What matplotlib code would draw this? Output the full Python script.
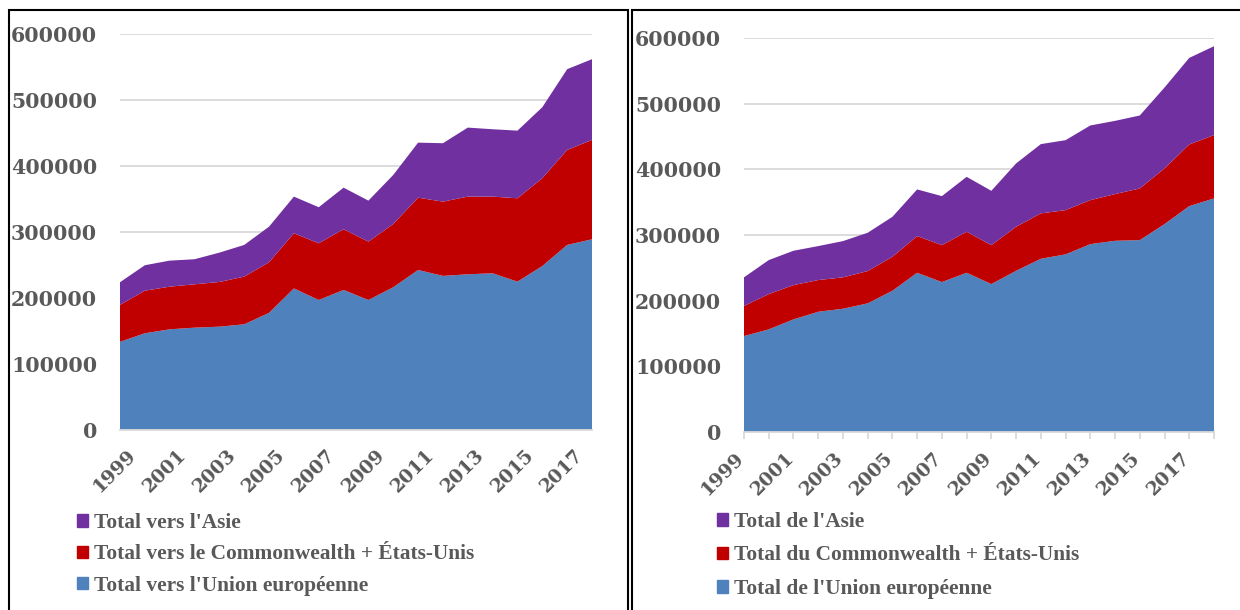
"""Deux graphiques en aires empilees : exportations (gauche) et importations (droite),
par grande zone, 1999-2018."""

import matplotlib.pyplot as plt
from matplotlib.patches import Patch, Rectangle
from matplotlib.font_manager import FontProperties
from matplotlib.transforms import ScaledTranslation

ANNEES = list(range(1999, 2019))

# Gauche : flux "vers"
VERS_UE = [133000, 146000, 152000, 154500, 156000, 159600, 177000, 214000, 196500, 211700,
           196500, 215800, 242000, 233000, 235500, 237000, 224300, 248000, 280000, 288600]
VERS_CW = [56000, 64600, 64700, 65800, 67800, 72300, 76700, 83700, 86000, 92100,
           88500, 96000, 109700, 112700, 117800, 116300, 126500, 133200, 144100, 150700]
VERS_ASIE = [34400, 38600, 39500, 38000, 44500, 48100, 54000, 55600, 54700, 63100,
             62200, 74400, 83500, 88600, 104700, 102200, 102600, 107700, 122500, 122500]

# Droite : flux "de"
DE_UE = [146100, 156300, 171500, 183100, 187700, 195900, 215100, 242500, 228300, 242500,
         225300, 245500, 263800, 270500, 286100, 291200, 292200, 316600, 344000, 355700]
DE_CW = [45700, 53700, 52200, 48300, 47800, 49200, 51700, 55800, 56300, 62400,
         59300, 67000, 69100, 67400, 67000, 71100, 78700, 84800, 93900, 96400]
DE_ASIE = [43700, 51800, 52300, 51700, 55200, 58300, 60900, 71100, 74600, 83700,
           82700, 96500, 105500, 106500, 113700, 111500, 111100, 123200, 131800, 135400]

LEG_VERS = ["Total vers l'Asie", "Total vers le Commonwealth + États-Unis",
            "Total vers l'Union européenne"]
LEG_DE = ["Total de l'Asie", "Total du Commonwealth + États-Unis",
          "Total de l'Union européenne"]

# Couleurs
BLEU = "#4F81BD"
ROUGE = "#C00000"
VIOLET = "#7030A0"
GRILLE = "#D9D9D9"
TEXTE = "#595959"

W, H = 1240, 610
fig = plt.figure(figsize=(W / 100, H / 100), dpi=100)


def px(x0, y_top, x1, y_bas):
    # rectangle en pixels (origine en haut a gauche) -> fraction de figure
    return [x0 / W, 1 - y_bas / H, (x1 - x0) / W, (y_bas - y_top) / H]


def panneau(rect, ue, cw, asie, legende, leg_xy, ha_annee, dx_annee, tick_len, pad_x, interligne):
    ax = fig.add_axes(rect)
    ax.stackplot(ANNEES, ue, cw, asie, colors=[BLEU, ROUGE, VIOLET], linewidth=0)
    ax.set_xlim(1999, 2018)
    ax.set_ylim(0, 600000)
    ax.set_yticks(range(0, 600001, 100000))
    ax.yaxis.grid(True, color=GRILLE, lw=1.3)
    ax.set_axisbelow(True)
    for s in ("top", "right", "left"):
        ax.spines[s].set_visible(False)
    ax.spines["bottom"].set_color(GRILLE)
    ax.spines["bottom"].set_linewidth(1.3)

    ax.set_xticks(ANNEES)
    ax.set_xticklabels([str(a) if (a - 1999) % 2 == 0 else "" for a in ANNEES])
    ax.tick_params(axis="y", length=0, pad=16.5, labelcolor=TEXTE)
    ax.tick_params(axis="x", length=tick_len, width=1.3, color=GRILLE,
                   pad=pad_x, labelcolor=TEXTE)
    for lab in ax.get_yticklabels():
        lab.set_fontproperties(FontProperties(family="DejaVu Serif", weight="bold", size=14.8))
    decal = ScaledTranslation(dx_annee / 100, 0, fig.dpi_scale_trans)
    for lab in ax.get_xticklabels():
        lab.set_fontproperties(FontProperties(family="DejaVu Serif", weight="bold", size=13.6))
        lab.set_rotation(45)
        lab.set_horizontalalignment(ha_annee)
        lab.set_transform(lab.get_transform() + decal)

    poignees = [Patch(color=c, label=t) for c, t in zip([VIOLET, ROUGE, BLEU], legende)]
    fig.legend(handles=poignees, loc="upper left",
               bbox_to_anchor=(leg_xy[0] / W, 1 - leg_xy[1] / H),
               frameon=False, labelcolor=TEXTE,
               prop=FontProperties(family="Liberation Serif", weight="bold", size=15.4),
               handlelength=0.52, handleheight=0.52, handletextpad=0.26,
               labelspacing=interligne, borderpad=0, borderaxespad=0)
    return ax


panneau(px(120, 34, 592, 429.5), VERS_UE, VERS_CW, VERS_ASIE, LEG_VERS,
        (77, 513), "center", -5, 0, 12, 0.53)
panneau(px(744, 38, 1214, 432), DE_UE, DE_CW, DE_ASIE, LEG_DE,
        (717, 512), "right", 4, 5, 7.5, 0.63)

# Cadres noirs autour des deux graphiques
fig.add_artist(Rectangle((9 / W, -0.05), (628 - 9) / W, 1.05 - 10 / H,
                         transform=fig.transFigure, fill=False, lw=1.5, ec="black"))
fig.add_artist(Rectangle((631.5 / W, -0.05), 0.5, 1.05 - 10 / H,
                         transform=fig.transFigure, fill=False, lw=1.5, ec="black"))

fig.savefig("out.png", dpi=100, facecolor="white")
